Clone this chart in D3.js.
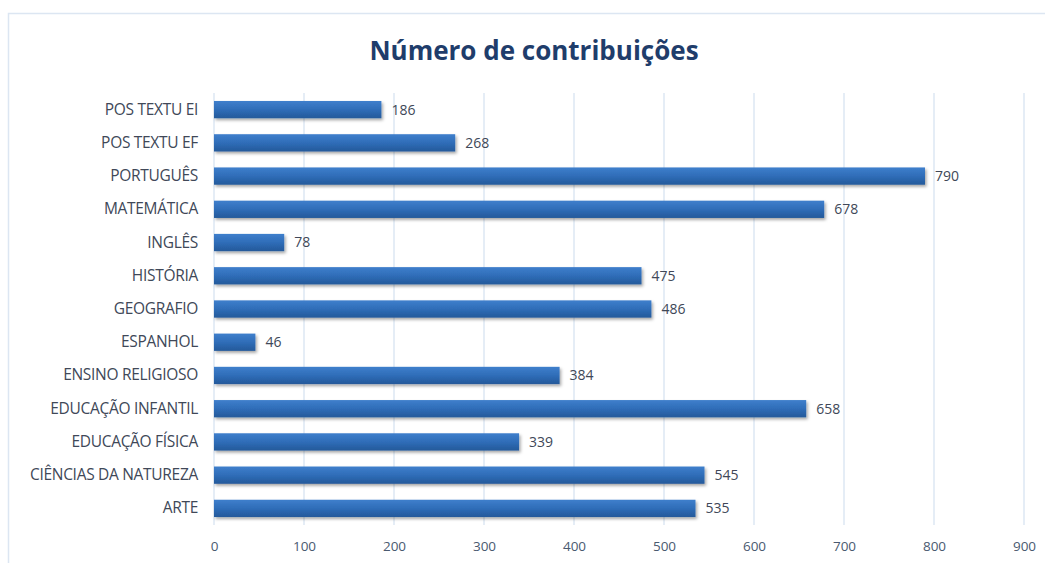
<!DOCTYPE html>
<meta charset="utf-8">
<script src="https://d3js.org/d3.v7.min.js"></script>
<style>
  body { margin: 0; background: #fff; }
  text { font-family: "Open Sans", "Noto Sans", sans-serif; }
</style>
<div id="chart"></div>
<script>
// data (top to bottom)
var categories = ["POS TEXTU EI", "POS TEXTU EF", "PORTUGUÊS", "MATEMÁTICA", "INGLÊS", "HISTÓRIA",
  "GEOGRAFIO", "ESPANHOL", "ENSINO RELIGIOSO", "EDUCAÇÃO INFANTIL", "EDUCAÇÃO FÍSICA",
  "CIÊNCIAS DA NATUREZA", "ARTE"]
var values = [186, 268, 790, 678, 78, 475, 486, 46, 384, 658, 339, 545, 535]
var ticks = [0, 100, 200, 300, 400, 500, 600, 700, 800, 900]

var W = 1045, H = 563
var margin = {top: 93, right: 21, bottom: 38, left: 214}
var width = W - margin.left - margin.right,
    height = H - margin.top - margin.bottom

var svg = d3.select("#chart").append("svg")
  .attr("width", W).attr("height", H)

// chart frame
svg.append("rect")
  .attr("x", 8.5).attr("y", 13.5)
  .attr("width", W + 20).attr("height", H)
  .attr("fill", "none").attr("stroke", "#dce6f2").attr("stroke-width", 1.5)

var defs = svg.append("defs")
var grad = defs.append("linearGradient").attr("id", "barGrad")
  .attr("x1", 0).attr("y1", 0).attr("x2", 0).attr("y2", 1)
grad.append("stop").attr("offset", "0%").attr("stop-color", "#3f7fcc")
grad.append("stop").attr("offset", "50%").attr("stop-color", "#2f6db8")
grad.append("stop").attr("offset", "100%").attr("stop-color", "#24599a")
var shadow = defs.append("filter").attr("id", "shadow")
  .attr("x", "-5%").attr("y", "-30%").attr("width", "115%").attr("height", "180%")
shadow.append("feDropShadow").attr("dx", 1.5).attr("dy", 2).attr("stdDeviation", 1.5)
  .attr("flood-color", "#000").attr("flood-opacity", 0.35)

svg.append("text")
  .attr("x", 534).attr("y", 60)
  .attr("text-anchor", "middle")
  .style("font-size", "26px").style("font-weight", "bold")
  .attr("fill", "#1f3d6b")
  .text("Número de contribuições")

var g = svg.append("g").attr("transform", "translate(" + margin.left + "," + margin.top + ")")

var x = d3.scaleLinear().domain([0, 900]).range([0, width])
var y = d3.scaleBand().domain(categories).range([0, height]).paddingInner(0.48).paddingOuter(0.24)

// gridlines
g.selectAll(".grid").data(ticks).enter().append("line")
  .attr("x1", d => x(d)).attr("x2", d => x(d))
  .attr("y1", 0).attr("y2", height)
  .attr("stroke", "#dde7f3").attr("stroke-width", 1.5)

// x axis labels
var xa = g.append("g").attr("transform", "translate(0," + height + ")")
  .call(d3.axisBottom(x).tickValues(ticks).tickSize(0).tickPadding(16))
xa.select(".domain").remove()
xa.selectAll("text").style("font-size", "13.5px").attr("fill", "#4a5a70")
  .style("font-family", "'Open Sans', sans-serif")

// y axis labels
var ya = g.append("g")
  .call(d3.axisLeft(y).tickSize(0).tickPadding(16))
ya.select(".domain").remove()
ya.selectAll("text").style("font-size", "15.5px").attr("fill", "#404858")
  .style("font-family", "'Open Sans', sans-serif")
  .style("letter-spacing", "-0.3px")

// bars
g.selectAll(".bar").data(values).enter().append("rect")
  .attr("x", x(0))
  .attr("y", (d, i) => y(categories[i]))
  .attr("width", d => x(d) - x(0))
  .attr("height", y.bandwidth())
  .attr("fill", "url(#barGrad)")
  .attr("filter", "url(#shadow)")

// value labels
g.selectAll(".val").data(values).enter().append("text")
  .attr("x", d => x(d) + 10)
  .attr("y", (d, i) => y(categories[i]) + y.bandwidth() / 2)
  .attr("dy", "0.35em")
  .style("font-size", "14px").attr("fill", "#404858")
  .text(d => d)
</script>
